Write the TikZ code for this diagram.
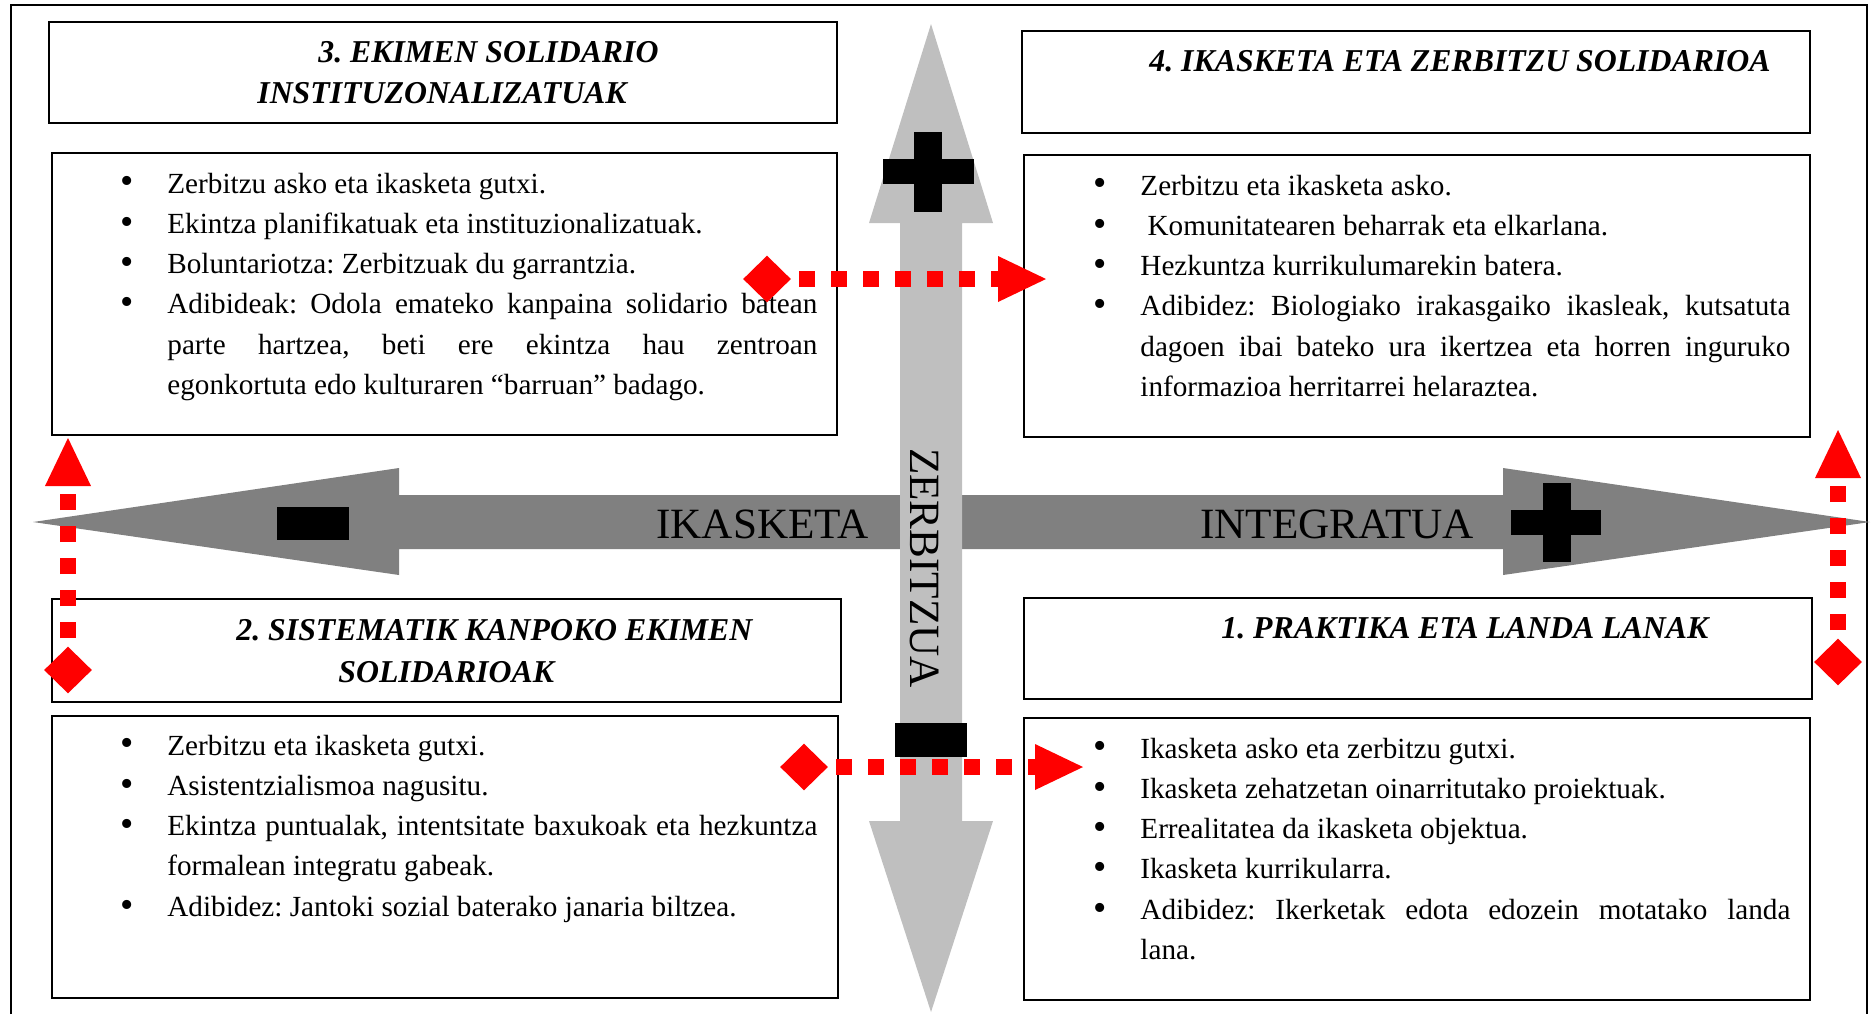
\documentclass[tikz,border=0pt]{standalone}
\usepackage{fontspec}
\setmainfont{Liberation Serif}
\usetikzlibrary{shapes.geometric,arrows.meta,fit}
\definecolor{lgrey}{HTML}{BFBFBF}
\definecolor{dgrey}{HTML}{808080}
\definecolor{myred}{HTML}{FF0000}
\newcommand\bmark{\llap{\makebox[0pt][c]{\raisebox{-0.4pt}{\scalebox{1.3}{\textbullet}}}\hspace{20.25pt}}}
\newcommand\bfirst{\noindent\bmark}
\newcommand\bl{\par\noindent\bmark}
\frenchspacing
\begin{document}
\begin{tikzpicture}[x=0.5pt,y=-0.5pt,
  box/.style={draw=black, line width=0.75pt, inner sep=0pt},
  body/.style={anchor=base west, inner sep=0pt, text width=325pt, align=justify,
    font=\fontsize{14.6}{20.15}\selectfont\frenchspacing},
  ttl/.style={anchor=base west, inner sep=0pt, font=\fontsize{15.9}{20.5}\selectfont\bfseries\itshape},
  lbl/.style={inner sep=0pt, font=\fontsize{21.6}{25}\selectfont},
  dia/.style={diamond, fill=myred, inner sep=0pt, minimum width=24pt, minimum height=23.5pt},
  rdash/.style={draw=myred, line width=8pt, dash pattern=on 8pt off 8pt, dash phase=12pt,
    -{Triangle[length=24pt,width=23pt,line width=0pt]}}
]
\useasboundingbox (0,0) rectangle (1872,1014);
% frame
\draw[line width=1pt] (11,1014) -- (11,5) -- (1867,5) -- (1867,1014);
% horizontal double arrow
\fill[dgrey] (33,522) -- (399,468) -- (399,495) -- (1503,495) -- (1503,468) -- (1870,522)
  -- (1503,575) -- (1503,549) -- (399,549) -- (399,575) -- cycle;
% vertical double arrow
\fill[lgrey] (931,24) -- (993,223) -- (962,223) -- (962,821) -- (993,821) -- (931,1012)
  -- (869,821) -- (900,821) -- (900,223) -- (869,223) -- cycle;
% plus and minus signs
\fill (914,132) rectangle (942,212);
\fill (883,159) rectangle (974,184);
\fill (1543,483) rectangle (1571,562);
\fill (1511,510) rectangle (1601,535);
\fill (277,507) rectangle (349,540);
\fill (895,723) rectangle (967,757);
% axis labels
\node[lbl, anchor=base west] (lik) at (656,538) {IKASKETA};
\node[lbl, anchor=base west] (lin) at (1200,538) {INTEGRATUA};
\node[lbl, anchor=base, rotate=-90] (lze) at (910,568) {ZERBITZUA};
% boxes
\node[box, fit={(49,22) (837,123)}] (b3t) {};
\node[box, fit={(52,153) (837,435)}] (b3) {};
\node[box, fit={(1022,31) (1810,133)}] (b4t) {};
\node[box, fit={(1024,155) (1810,437)}] (b4) {};
\node[box, fit={(52,599) (841,702)}] (b2t) {};
\node[box, fit={(52,716) (838,998)}] (b2) {};
\node[box, fit={(1024,598) (1812,699)}] (b1t) {};
\node[box, fit={(1024,718) (1810,1000)}] (b1) {};
% titles
\node[ttl] (h3a) at (318,62) {3. EKIMEN SOLIDARIO};
\node[ttl] (h3b) at (257,103) {INSTITUZONALIZATUAK};
\node[ttl] (h4) at (1149,71) {4. IKASKETA ETA ZERBITZU SOLIDARIOA};
\node[ttl] (h2a) at (236,640) {2. SISTEMATIK KANPOKO EKIMEN};
\node[ttl] (h2b) at (338,682) {SOLIDARIOAK};
\node[ttl] (h1) at (1221,638) {1. PRAKTIKA ETA LANDA LANAK};
% body texts
\node[body] (t3) at (167,193) {%
\bfirst Zerbitzu asko eta ikasketa gutxi.
\bl Ekintza planifikatuak eta instituzionalizatuak.
\bl Boluntariotza: Zerbitzuak du garrantzia.
\bl Adibideak: Odola emateko kanpaina solidario batean\linebreak parte hartzea, beti ere ekintza hau zentroan\linebreak egonkortuta edo kulturaren “barruan” badago.};
\node[body] (t4) at (1140,195) {%
\bfirst Zerbitzu eta ikasketa asko.
\bl \hspace*{3.6pt}Komunitatearen beharrak eta elkarlana.
\bl Hezkuntza kurrikulumarekin batera.
\bl Adibidez: Biologiako irakasgaiko ikasleak, kutsatuta\linebreak dagoen ibai bateko ura ikertzea eta horren inguruko\linebreak informazioa herritarrei helaraztea.};
\node[body] (t2) at (167,755) {%
\bfirst Zerbitzu eta ikasketa gutxi.
\bl Asistentzialismoa nagusitu.
\bl Ekintza puntualak, intentsitate baxukoak eta hezkuntza\linebreak formalean integratu gabeak.
\bl Adibidez: Jantoki sozial baterako janaria biltzea.};
\node[body] (t1) at (1140,758) {%
\bfirst Ikasketa asko eta zerbitzu gutxi.
\bl Ikasketa zehatzetan oinarritutako proiektuak.
\bl Errealitatea da ikasketa objektua.
\bl Ikasketa kurrikularra.
\bl Adibidez: Ikerketak edota edozein motatako landa\linebreak lana.};
% red dotted arrows
\node[dia] (d3) at (767,279) {};
\coordinate (a3) at (1046,279);
\draw[rdash] (d3.east) -- (a3);
\node[dia] (d2) at (804,767) {};
\coordinate (a2) at (1083,767);
\draw[rdash] (d2.east) -- (a2);
\node[dia] (dl) at (68,670) {};
\coordinate (al) at (68,438);
\draw[rdash] (dl.north) -- (al);
\node[dia] (dr) at (1838,662) {};
\coordinate (ar) at (1838,430);
\draw[rdash] (dr.north) -- (ar);
\end{tikzpicture}
\end{document}
